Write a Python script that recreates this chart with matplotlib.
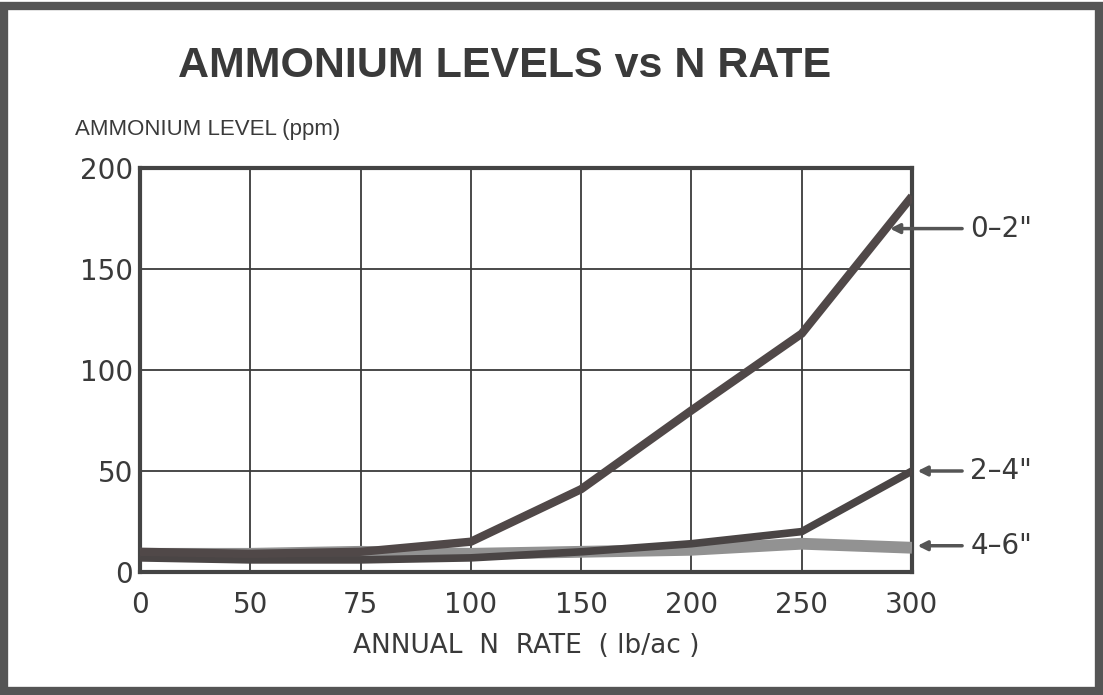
import matplotlib.pyplot as plt
from matplotlib.patches import Rectangle
import numpy as np

plt.rcParams['font.family'] = ['DejaVu Sans']

n_rate = ['0', '50', '75', '100', '150', '200', '250', '300']
depth_0_2 = [10, 9, 10, 15, 41, 80, 118, 186]
depth_2_4 = [7, 6, 6, 7, 10, 14, 20, 50]
depth_4_6 = [9, 9, 10, 9, 10, 11, 14, 12]
series_labels = ['0\u20132"', '2\u20134"', '4\u20136"']
label_values = [170, 50, 13]

ink = '#3a3a3a'
fig = plt.figure(figsize=(11.03, 6.95), dpi=100)
fig.patch.set_facecolor('white')

# outer frame
fig.add_artist(Rectangle((0.004, 0.006), 0.992, 0.986, transform=fig.transFigure,
                         fill=False, edgecolor='#555555', linewidth=6))

ax = fig.add_axes([140/1103, 1 - 572/695, (912-140)/1103, (572-168)/695])
x = np.arange(len(n_rate))

ax.plot(x, depth_4_6, color='#929292', linewidth=8.5, solid_capstyle='butt', zorder=3)
ax.plot(x, depth_2_4, color='#4a4545', linewidth=5.5, solid_capstyle='butt', zorder=4)
ax.plot(x, depth_0_2, color='#504848', linewidth=6, solid_capstyle='butt', zorder=5)

ax.set_xlim(0, len(n_rate) - 1)
ax.set_ylim(0, 200)
ax.set_xticks(x)
ax.set_xticklabels(n_rate)
ax.set_yticks([0, 50, 100, 150, 200])
ax.grid(True, color=ink, linewidth=1.3)
ax.tick_params(length=0, labelsize=20, colors=ink)
ax.tick_params(axis='x', pad=14)
ax.tick_params(axis='y', pad=5)
for s in ax.spines.values():
    s.set_linewidth(3)
    s.set_color('#444444')

ax.set_xlabel('ANNUAL  N  RATE  ( lb/ac )', fontsize=19, color=ink, labelpad=10)
fig.text(75/1103, 1 - 130/695, 'AMMONIUM LEVEL (ppm)', fontsize=16, color=ink, va='center',
         family='Liberation Sans')
fig.text(505/1103, 1 - 66/695, 'AMMONIUM LEVELS vs N RATE', fontsize=31, fontweight='bold',
         color=ink, ha='center', va='center', family='Liberation Sans')

# series labels with arrows
tips = [len(n_rate) - 1 - 0.2, len(n_rate) - 1 + 0.05, len(n_rate) - 1 + 0.05]
for lab, val, tip in zip(series_labels, label_values, tips):
    ax.annotate(lab, xy=(tip, val), xytext=(len(n_rate) - 1 + 0.53, val),
                textcoords='data', fontsize=20, color=ink, va='center',
                annotation_clip=False,
                arrowprops=dict(arrowstyle='-|>', color='#555555', lw=2.5,
                                mutation_scale=14, shrinkA=4, shrinkB=0))

plt.savefig('out.png', dpi=100)
